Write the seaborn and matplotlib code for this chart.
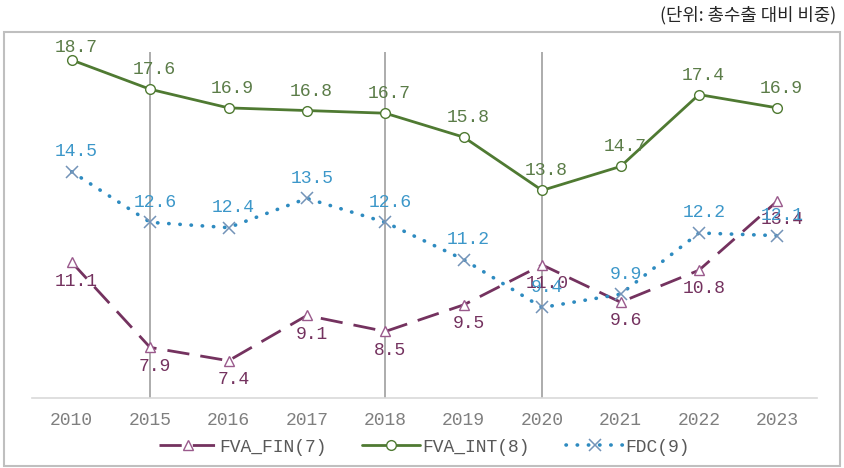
import seaborn as sns
import matplotlib.pyplot as plt
from matplotlib.patches import Rectangle

years = ['2010', '2015', '2016', '2017', '2018', '2019', '2020', '2021', '2022', '2023']
fva_fin = [11.1, 7.9, 7.4, 9.1, 8.5, 9.5, 11.0, 9.6, 10.8, 13.4]
fva_int = [18.7, 17.6, 16.9, 16.8, 16.7, 15.8, 13.8, 14.7, 17.4, 16.9]
fdc = [14.5, 12.6, 12.4, 13.5, 12.6, 11.2, 9.4, 9.9, 12.2, 12.1]
guide_years = ['2015', '2018', '2020']

sns.set_theme(style='white')
plt.rcParams['font.family'] = ['Liberation Mono', 'DejaVu Sans']

fig = plt.figure(figsize=(8.44, 4.68), dpi=100)
ax = fig.add_axes([0.0385, 0.1496, 0.929, 0.7393])

mono = 13
x = list(range(len(years)))

# vertical guide lines
for y in guide_years:
    ax.axvline(years.index(y), color='#a6a6a6', lw=1.3, zorder=1)

sns.lineplot(x=x, y=fva_fin, ax=ax, color='#74325f', lw=2, linestyle=(0, (8, 4)),
             marker='^', markersize=7, markerfacecolor='white', markeredgecolor='#9a5a8c',
             markeredgewidth=1, label='FVA_FIN(7)', zorder=3)
sns.lineplot(x=x, y=fva_int, ax=ax, color='#4f7a32', lw=2, marker='o', markersize=7,
             markerfacecolor='white', markeredgecolor='#4f7a32', markeredgewidth=1,
             label='FVA_INT(8)', zorder=3)
sns.lineplot(x=x, y=fdc, ax=ax, color='#2e8bc0', lw=2.6, linestyle=(0, (0.1, 3.0)),
             dash_capstyle='round', marker='x', markersize=8, markeredgecolor='#7393b8',
             markeredgewidth=1.1, label='FDC(9)', zorder=3)

# data labels
for i, v in enumerate(fva_fin):
    ax.annotate(f'{v:.1f}', (i, v), xytext=(3.5, -13.5), textcoords='offset points',
                ha='center', va='center', fontsize=mono, color='#74325f', zorder=5)
for i, v in enumerate(fva_int):
    dy = 9 if v > 18.5 else 14
    ax.annotate(f'{v:.1f}', (i, v), xytext=(3, dy), textcoords='offset points',
                ha='center', va='center', fontsize=mono, color='#5b7c48', zorder=5)
for i, v in enumerate(fdc):
    ax.annotate(f'{v:.1f}', (i, v), xytext=(3.5, 14.5), textcoords='offset points',
                ha='center', va='center', fontsize=mono, color='#3c97c9', zorder=5)

ax.set_xlim(-0.5, len(years) - 0.5)
ax.set_ylim(6, 19)
ax.set_xticks(x)
ax.set_xticklabels(years, fontsize=mono, color='#7f7f7f')
ax.set_yticks([])
ax.tick_params(axis='x', length=0, pad=10)
for side in ['top', 'left', 'right']:
    ax.spines[side].set_visible(False)
ax.spines['bottom'].set_color('#d9d9d9')
ax.spines['bottom'].set_linewidth(1.2)
ax.set_xlabel('')
ax.set_ylabel('')

leg = ax.legend(loc='center', bbox_to_anchor=(0.5, -0.142), ncol=3, frameon=False,
                fontsize=mono, handlelength=3.2, handletextpad=0.1, columnspacing=2.0)
for t in leg.get_texts():
    t.set_color('#595959')

# outer frame
fig.patches.append(Rectangle((4 / 844, 2 / 468), 836 / 844, 434 / 468, transform=fig.transFigure,
                             fill=False, edgecolor='#bfbfbf', lw=1.5))

fig.text(0.991, 0.967, '(단위: 총수출 대비 비중)', ha='right', va='center', fontsize=12.8,
         color='#262626', family=['Noto Sans CJK KR', 'DejaVu Sans'])

fig.savefig('out.png', dpi=100)
